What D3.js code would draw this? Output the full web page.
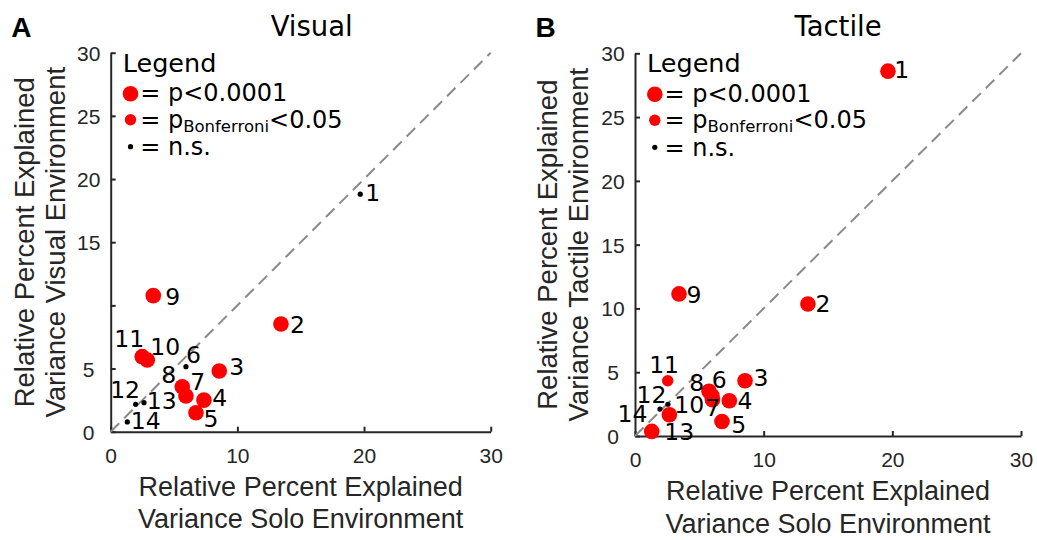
<!DOCTYPE html>
<html>
<head>
<meta charset="utf-8">
<script src="https://cdn.jsdelivr.net/npm/d3@7"></script>
<style>
  body { margin: 0; background: #fff; }
  svg { display: block; }
</style>
</head>
<body>
<svg id="fig" width="1037" height="540"></svg>
<script>
// ---- data -------------------------------------------------------------
const unitIds = [1, 2, 3, 4, 5, 6, 7, 8, 9, 10, 11, 12, 13, 14];

// Visual environment vs solo (relative % explained variance)
const visualSolo = [19.7, 13.44, 8.57, 7.36, 6.73, 5.94, 5.94, 5.65, 3.36, 2.89, 2.49, 1.97, 2.63, 1.31];
const visualEnv  = [18.8, 8.53, 4.80, 2.50, 1.50, 5.15, 2.83, 3.56, 10.77, 5.68, 5.94, 2.17, 2.30, 0.77];
const visualSig  = ["ns", "p4", "p4", "p4", "p4", "ns", "p4", "p4", "p4", "p4", "p4", "ns", "ns", "ns"];

// Tactile environment vs solo
const tactileSolo = [19.66, 13.44, 8.55, 7.33, 6.76, 5.98, 6.02, 5.75, 3.42, 2.67, 2.54, 2.56, 1.30, 1.94];
const tactileEnv  = [28.6, 10.35, 4.33, 2.76, 1.14, 3.16, 2.84, 3.51, 11.14, 1.67, 4.33, 2.49, 0.36, 2.11];
const tactileSig  = ["p4", "p4", "p4", "p4", "p4", "p4", "p4", "p4", "p4", "p4", "bonf", "ns", "p4", "ns"];

// axis ticks
const xTickValues = [0, 10, 20, 30];
const yTickValues = [0, 5, 10, 15, 20, 25, 30];
const visualYTickLabels  = ["0", "5", "", "15", "20", "25", "30"];
const tactileYTickLabels = ["0", "5", "10", "15", "20", "25", "30"];

// legend entries
const legendKeys = ["p4", "bonf", "ns"];

// ---- label placement (pixel nudges from each marker centre) -----------
const visualLabelNudge = [[5, 7], [9, 9.3], [10, 4], [8.3, 6], [7.5, 14], [0, -4], [4.3, -6],
  [-21, -3.4], [12, 9.3], [3, -5], [-28, -10], [-25.5, -6], [2.8, 6.6], [3.5, 7.3]];
const tactileLabelNudge = [[6.2, 7.3], [7.5, 8], [8.5, 5.7], [8.2, 8.3], [9.2, 11.6], [-0.2, -7.7],
  [-7.3, 16.7], [-19.8, 0.2], [7.5, 9], [5, -1.7], [-18.5, -7.7], [-31.5, -1.2], [12.5, 8.3], [-42.5, 13.4]];

// ---- styles -------------------------------------------------------------
const AXIS_COLOR = "#262626";
const SANS = "'Liberation Sans', Arial, sans-serif";
const DEJAVU = "'DejaVu Sans', Verdana, sans-serif";
const markerStyle = {
  p4:   { r: 7.8, fill: "#ff0000" },
  bonf: { r: 5.7, fill: "#ff0000" },
  ns:   { r: 2.6, fill: "#000000" }
};

const panels = [
  { tag: "A", title: "Visual", env: "Visual", solo: visualSolo, vals: visualEnv, sig: visualSig,
    yLabels: visualYTickLabels, nudge: visualLabelNudge,
    box: { left: 110.7, top: 52.7, width: 380, height: 379 }, titleShift: 11, yLabelShift: 0 },
  { tag: "B", title: "Tactile", env: "Tactile", solo: tactileSolo, vals: tactileEnv, sig: tactileSig,
    yLabels: tactileYTickLabels, nudge: tactileLabelNudge,
    box: { left: 635, top: 53.3, width: 386, height: 382.7 }, titleShift: 10, yLabelShift: -1 }
];

const svg = d3.select("#fig");

panels.forEach(p => {
  const b = p.box;
  const x = d3.scaleLinear().domain([0, 30]).range([b.left, b.left + b.width]);
  const y = d3.scaleLinear().domain([0, 30]).range([b.top + b.height, b.top]);
  const g = svg.append("g");
  const x0 = x(0), y0 = y(0);

  // x axis
  const xAxis = d3.axisBottom(x).tickValues(xTickValues).tickSize(-5).tickSizeOuter(0).tickPadding(16);
  const gx = g.append("g").attr("transform", `translate(0,${y0})`).call(xAxis);
  // y axis
  const yAxis = d3.axisLeft(y).tickValues(yTickValues).tickSize(-5).tickSizeOuter(0)
    .tickFormat((d, i) => p.yLabels[i]);
  const gy = g.append("g").attr("transform", `translate(${x0},0)`).call(yAxis);

  [gx, gy].forEach(ax => {
    ax.select(".domain").attr("stroke", AXIS_COLOR).attr("stroke-width", 2);
    ax.selectAll(".tick line").attr("stroke", AXIS_COLOR).attr("stroke-width", 2);
    ax.selectAll(".tick text").attr("fill", AXIS_COLOR)
      .style("font-family", SANS).style("font-size", "21px");
  });
  gy.selectAll(".tick text").attr("text-anchor", "middle").attr("x", -22).attr("dy", "0.36em");

  // unity line
  g.append("line")
    .attr("x1", x(0)).attr("y1", y(0)).attr("x2", x(30)).attr("y2", y(30))
    .attr("stroke", "#8a8a8a").attr("stroke-width", 2).attr("stroke-dasharray", "12,7");

  // points: non-significant first so filled markers sit on top
  const pts = unitIds.map((id, i) => ({ id, sx: p.solo[i], ev: p.vals[i], sig: p.sig[i], nudge: p.nudge[i] }));
  const order = { ns: 0, bonf: 1, p4: 2 };
  const sorted = pts.slice().sort((a, c) => order[a.sig] - order[c.sig]);
  g.append("g").selectAll("circle").data(sorted).join("circle")
    .attr("cx", d => x(d.sx)).attr("cy", d => y(d.ev))
    .attr("r", d => markerStyle[d.sig].r).attr("fill", d => markerStyle[d.sig].fill);

  g.append("g").selectAll("text").data(pts).join("text")
    .attr("x", d => x(d.sx) + d.nudge[0]).attr("y", d => y(d.ev) + d.nudge[1])
    .style("font-family", DEJAVU).style("font-size", "23.5px").attr("fill", "#000")
    .text(d => d.id);

  // legend
  const lg = g.append("g").attr("transform", `translate(${x0},${y(30)})`);
  lg.append("text").attr("x", 12).attr("y", 18.8)
    .style("font-family", DEJAVU).style("font-size", "25.5px").attr("fill", "#000").text("Legend");
  const rowsY = [41, 67, 94];
  const baseY = [48.5, 75, 102.5];
  legendKeys.forEach((k, i) => {
    lg.append("circle").attr("cx", 19.8).attr("cy", rowsY[i])
      .attr("r", markerStyle[k].r).attr("fill", markerStyle[k].fill);
    const t = lg.append("text").attr("x", 29.5).attr("y", baseY[i])
      .style("font-family", DEJAVU).style("font-size", "24px").attr("fill", "#000");
    if (k === "p4") t.text("= p<0.0001");
    else if (k === "bonf") {
      t.append("tspan").text("= p");
      t.append("tspan").attr("dy", 4).style("font-size", "16.5px").text("Bonferroni");
      t.append("tspan").attr("dy", -4).text("<0.05");
    } else t.text("= n.s.");
  });

  // title and panel tag
  g.append("text").attr("x", (x(0) + x(30)) / 2 + p.titleShift).attr("y", 36)
    .attr("text-anchor", "middle").style("font-family", DEJAVU).style("font-size", "27.5px")
    .attr("fill", "#000").text(p.title);
  g.append("text").attr("x", x0 - 99.5).attr("y", 37)
    .style("font-family", SANS).style("font-size", "28px").style("font-weight", "bold")
    .attr("fill", "#000").text(p.tag);

  // axis labels
  const cx = (x(0) + x(30)) / 2;
  const xl = g.append("text").attr("text-anchor", "middle")
    .style("font-family", SANS).style("font-size", "27px")
    .attr("fill", AXIS_COLOR);
  xl.append("tspan").attr("x", cx).attr("y", y0 + 64).text("Relative Percent Explained");
  xl.append("tspan").attr("x", cx).attr("y", y0 + 96.5).text("Variance Solo Environment");

  const cy = (y(0) + y(30)) / 2;
  const yl = g.append("text").attr("text-anchor", "middle")
    .attr("transform", `translate(${x0 + p.yLabelShift},${cy}) rotate(-90)`)
    .style("font-family", SANS).style("font-size", "27.5px")
    .attr("fill", AXIS_COLOR);
  yl.append("tspan").attr("x", 0).attr("y", -77).text("Relative Percent Explained");
  yl.append("tspan").attr("x", 0).attr("y", -46).text(`Variance ${p.env} Environment`);
});
</script>
</body>
</html>
